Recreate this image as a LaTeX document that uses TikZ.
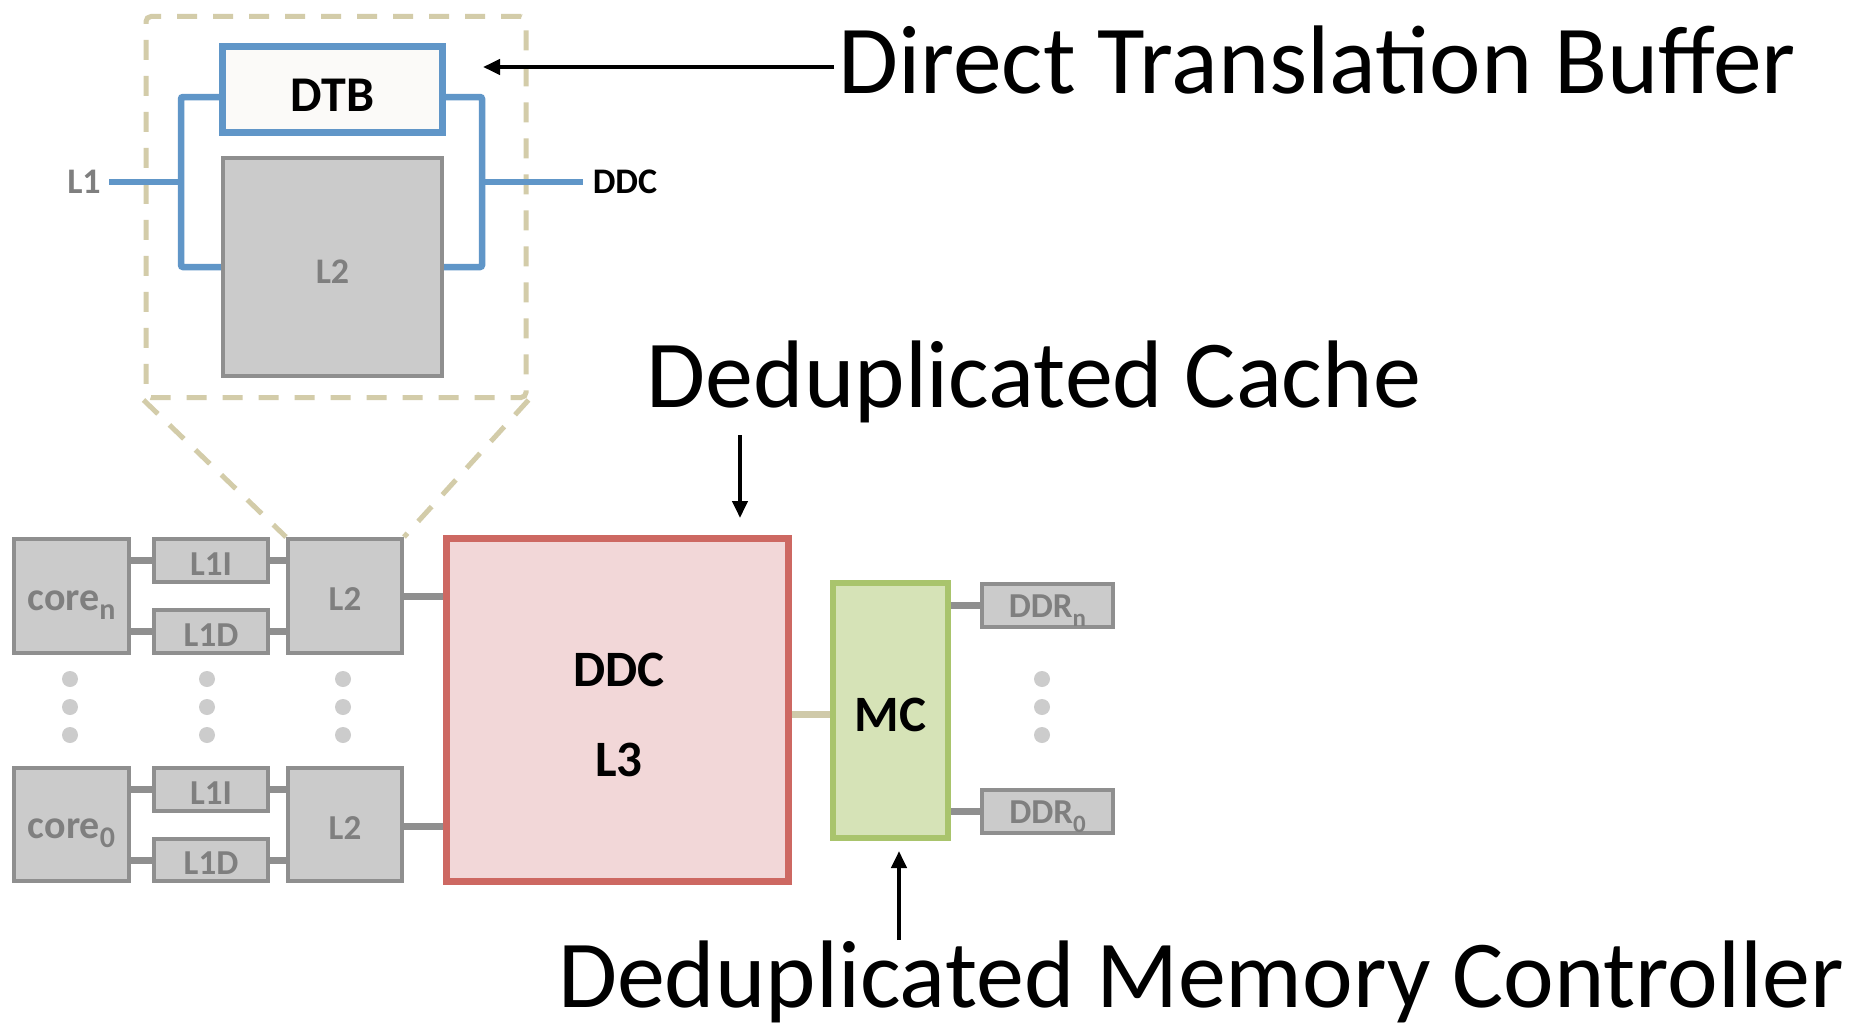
\documentclass[tikz,border=0pt]{standalone}
\usepackage{fontspec}
\setmainfont{Carlito}
\usetikzlibrary{arrows.meta,backgrounds}
\definecolor{boxgray}{HTML}{CBCBCB}
\definecolor{gborder}{HTML}{8F8F8F}
\definecolor{gtext}{HTML}{7F7F7F}
\definecolor{dotgray}{HTML}{CCCCCC}
\definecolor{wireblue}{HTML}{6096C8}
\definecolor{dtbfill}{HTML}{FBFAF8}
\definecolor{ddcborder}{HTML}{CD6862}
\definecolor{ddcfill}{HTML}{F2D7D8}
\definecolor{mcborder}{HTML}{A9C46C}
\definecolor{mcfill}{HTML}{D6E3B7}
\definecolor{beige}{HTML}{CFC9A9}
\definecolor{dashbeige}{HTML}{D3CCA9}
\newcommand\lowsub[2]{\raisebox{-9pt}{\fontsize{#1}{#1}\selectfont #2}}
\begin{document}
\begin{tikzpicture}[x=1pt,y=-1pt,
  gbox/.style={draw=gborder,fill=boxgray,line width=4pt,inner sep=0pt,text=gtext,
    font=\bfseries\fontsize{35}{35}\selectfont,text height=29pt,text depth=0pt},
  corebox/.style={gbox,font=\bfseries\fontsize{40}{40}\selectfont,text height=28pt,text depth=0pt},
  conn/.style={draw=gborder,line width=7pt},
  wire/.style={draw=wireblue,line width=6.5pt,rounded corners=2pt},
  dashline/.style={draw=dashbeige,line width=5pt,dash pattern=on 20pt off 16pt},
  arr/.style={draw=black,line width=4pt,-{Triangle[length=17pt,width=15pt]}},
  biglab/.style={inner sep=0pt,font=\fontsize{96}{96}\selectfont,text=black},
  blk/.style={inner sep=0pt,font=\bfseries\fontsize{51}{51}\selectfont,text=black}
]
\useasboundingbox (0,0) rectangle (1853,1025);
\begin{scope}[on background layer]
  \fill[white] (0,0) rectangle (1853,1025);
\end{scope}

% ---- bottom: cores
\node[corebox,minimum width=115pt,minimum height=114pt] (coren) at (71.5,596) {core\lowsub{30}{n}};
\node[gbox,minimum width=114pt,minimum height=43pt] (L1In) at (211,560.5) {L1I};
\node[gbox,minimum width=114pt,minimum height=43pt] (L1Dn) at (211,631.5) {L1D};
\node[gbox,minimum width=114pt,minimum height=114pt] (L2n) at (345,596) {L2};

\node[corebox,minimum width=115pt,minimum height=113pt] (core0) at (71.5,824.5) {core\lowsub{30}{0}};
\node[gbox,minimum width=114pt,minimum height=43pt] (L1I0) at (211,789.5) {L1I};
\node[gbox,minimum width=114pt,minimum height=42pt] (L1D0) at (211,860) {L1D};
\node[gbox,minimum width=114pt,minimum height=113pt] (L20) at (345,824.5) {L2};

% dots
\foreach \x in {70,207,343,1042}{
  \foreach \y in {679,707,735}{
    \fill[dotgray] (\x,\y) circle (8pt);
  }
}

% DDC
\node[draw=ddcborder,fill=ddcfill,line width=7pt,minimum width=342pt,minimum height=343pt,inner sep=0pt] (DDC) at (617.5,710) {};
\node[blk] (ddct) at (619,670) {DDC};
\node[blk] (l3t) at (619,760) {L3};

% MC
\node[draw=mcborder,fill=mcfill,line width=6pt,minimum width=115pt,minimum height=255pt,blk,text height=42pt,text depth=0pt] (MC) at (890.5,710.5) {MC};

% DDR
\node[gbox,minimum width=131pt,minimum height=43pt,text height=24pt] (DDRn) at (1047.5,605.5) {DDR\lowsub{25}{n}};
\node[gbox,minimum width=131pt,minimum height=43pt,text height=24pt] (DDR0) at (1047.5,811.5) {DDR\lowsub{25}{0}};

% connectors (behind)
\begin{scope}[on background layer]
  \draw[conn] (coren.east |- L1In.west) -- (L1In.west);
  \draw[conn] (coren.east |- L1Dn.west) -- (L1Dn.west);
  \draw[conn] (L1In.east) -- (L2n.west |- L1In.east);
  \draw[conn] (L1Dn.east) -- (L2n.west |- L1Dn.east);
  \draw[conn] (core0.east |- L1I0.west) -- (L1I0.west);
  \draw[conn] (core0.east |- L1D0.west) -- (L1D0.west);
  \draw[conn] (L1I0.east) -- (L20.west |- L1I0.east);
  \draw[conn] (L1D0.east) -- (L20.west |- L1D0.east);
  \draw[conn] (L2n.east) -- (DDC.west |- L2n.east);
  \draw[conn] ([yshift=-2pt]L20.east) -- +(45pt,0);
  \draw[conn] (DDRn.west) -- (MC.east |- DDRn.west);
  \draw[conn] (DDR0.west) -- (MC.east |- DDR0.west);
  \draw[draw=beige,line width=7pt] ([yshift=-4pt]MC.west) -- +(-42pt,0);
\end{scope}

% ---- top: zoomed view
\node[draw=dashbeige,line width=5pt,dash pattern=on 20pt off 16pt,rounded corners=5pt,
  minimum width=380pt,minimum height=381pt,inner sep=0pt] (frame) at (336,207) {};
\draw[dashline] (frame.south west) -- (L2n.north west);
\draw[dashline] (frame.south east) -- (L2n.north east);

\node[draw=wireblue,fill=dtbfill,line width=7pt,minimum width=220pt,minimum height=86pt,inner sep=0pt,blk,font=\bfseries\fontsize{50}{50}\selectfont,text height=43pt,text depth=0pt] (DTB) at (332.5,89.5) {DTB};
\node[gbox,minimum width=219pt,minimum height=218pt,font=\bfseries\fontsize{36}{36}\selectfont,text height=33pt] (iL2) at (332.5,267) {L2};

\coordinate (jl) at (181,182);
\coordinate (jr) at (482,182);
\coordinate (l1end) at (109,182);
\coordinate (ddcend) at (583,182);
\begin{scope}[on background layer]
  \draw[wire] ([yshift=-7.5pt]DTB.west) -| (jl) |- (iL2.west);
  \draw[wire] ([yshift=-7.5pt]DTB.east) -| (jr) |- (iL2.east);
\end{scope}
\draw[draw=wireblue,line width=6.5pt] (l1end) -- (jl);
\draw[draw=wireblue,line width=6.5pt] (jr) -- (ddcend);
\node[inner sep=0pt,font=\bfseries\fontsize{36}{36}\selectfont,text=gtext] (L1lab) at (84,182) {L1};
\node[inner sep=0pt,font=\bfseries\fontsize{36}{36}\selectfont,text=black] (DDClab) at (625,182) {DDC};

% ---- big labels and arrows
\node[biglab,anchor=base,font=\fontsize{97.5}{97.5}\selectfont] (DTBlab) at (1317,93) {Direct Translation Buffer};
\coordinate (dtbtip) at (483,67);
\draw[arr] (DTBlab.base west |- dtbtip) ++(-4pt,0) -- (dtbtip);

\node[biglab,anchor=base] (Cachelab) at (1034,407) {Deduplicated Cache};
\coordinate (cachetail) at (740,435);
\coordinate (cachetip) at (740,518);
\draw[arr] (cachetail) -- (cachetip);

\node[biglab,anchor=base] (MClab) at (1201,1007) {Deduplicated Memory Controller};
\coordinate (mctail) at (899,940);
\coordinate (mctip) at (899,851);
\draw[arr] (mctail) -- (mctip);
\end{tikzpicture}
\end{document}
